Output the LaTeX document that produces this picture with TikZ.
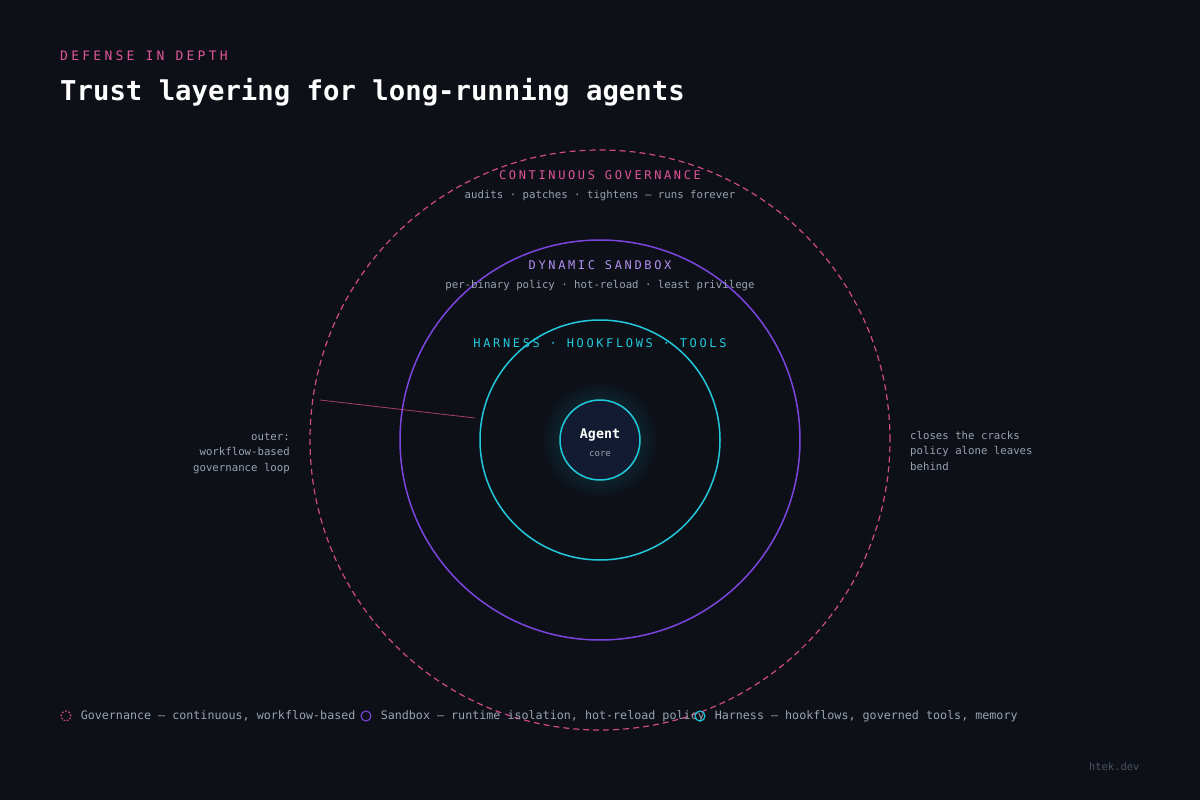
\documentclass[tikz,border=0pt]{standalone}
\usepackage{fontspec}
\setmainfont{DejaVu Sans Mono}
\newfontfamily\capsfont{DejaVu Sans Mono}[LetterSpace=22]
\newfontfamily\kickerfont{DejaVu Sans Mono}[LetterSpace=25]
\usetikzlibrary{positioning}
\definecolor{bgcol}{HTML}{0D1017}
\definecolor{govcol}{HTML}{D04A84}
\definecolor{govtext}{HTML}{E0559A}
\definecolor{sbcol}{HTML}{7B45DE}
\definecolor{sbtext}{HTML}{B090F0}
\definecolor{hncol}{HTML}{22C8DC}
\definecolor{agentfill}{HTML}{121B31}
\definecolor{mutedtext}{HTML}{9AA3B0}
\definecolor{dimtext}{HTML}{4B5563}

\tikzset{
  ring/.style={circle, inner sep=0pt, line width=1.5pt},
  layertitle/.style={anchor=base, font=\capsfont\fontsize{12pt}{12pt}\selectfont},
  layersub/.style={anchor=base, text=mutedtext, font=\fontsize{10.7pt}{10.7pt}\selectfont},
  notetext/.style={text=mutedtext, inner sep=0pt, font=\fontsize{10.7pt}{15.5pt}\selectfont},
  legendring/.style={circle, inner sep=0pt, minimum size=10pt, line width=1.1pt},
  legendtext/.style={anchor=base west, inner sep=0pt, text=mutedtext, font=\fontsize{11.7pt}{11.7pt}\selectfont},
}

\begin{document}
\begin{tikzpicture}[x=1pt, y=-1pt]%
\fill[bgcol] (0,0) rectangle (1200,800);%
\useasboundingbox (0,0) rectangle (1200,800);%
% heading
\node[anchor=base west, inner sep=0pt, text=govtext, font=\kickerfont\fontsize{13pt}{13pt}\selectfont] (kicker) at (60,60) {DEFENSE IN DEPTH};%
\node[anchor=base west, inner sep=0pt, text=white, font=\bfseries\fontsize{27.3pt}{27.3pt}\selectfont] (title) at (60,100) {Trust layering for long-running agents};%
% rings
\node[ring, draw=govcol, line width=1.2pt, dash pattern=on 6pt off 4pt, minimum size=580pt] (gov) at (600,440) {};%
\node[ring, draw=sbcol, minimum size=400pt] (sandbox) at (600,440) {};%
\node[ring, draw=hncol, minimum size=240pt] (harness) at (600,440) {};%
\foreach \r in {42,44,...,58} {\fill[hncol, opacity=0.014] (600,440) circle (\r pt);}%
\node[ring, draw=hncol, fill=agentfill, minimum size=80pt] (agent) at (600,440) {};%
\node[anchor=base, text=white, font=\bfseries\fontsize{13.3pt}{13.3pt}\selectfont] (agentname) at (600,438) {Agent};%
\node[anchor=base, text=mutedtext, font=\fontsize{9pt}{9pt}\selectfont] (agentcore) at (600,456) {core};%
% ring labels
\node[layertitle, text=govtext] (govname) at (600,179) {CONTINUOUS GOVERNANCE};%
\node[layersub] (govsub) at (600,198) {audits · patches · tightens — runs forever};%
\node[layertitle, text=sbtext] (sbname) at (600,269) {DYNAMIC SANDBOX};%
\node[layersub] (sbsub) at (600,288) {per-binary policy · hot-reload · least privilege};%
\node[layertitle, text=hncol] (hnname) at (600,347) {HARNESS · HOOKFLOWS · TOOLS};%
% side notes
\coordinate (leadstart) at (320,400);%
\coordinate (leadend) at (475,418);%
\draw[govcol, opacity=0.8, line width=0.8pt] (leadstart) -- (leadend);%
\node[notetext, anchor=base east, align=right] (outernote) at (290,471) {outer:\\workflow-based\\governance loop};%
\node[notetext, anchor=base west, align=left] (rightnote) at (910,470) {closes the cracks\\policy alone leaves\\behind};%
% legend
\node[legendring, draw=govcol, dash pattern=on 1.8pt off 1.6pt] (lgov) at (66,716) {};%
\node[legendtext, right=9pt of lgov.east, anchor=west] (lgovtext) {Governance — continuous, workflow-based};%
\node[legendring, draw=sbcol] (lsb) at (366,716) {};%
\node[legendtext, right=9pt of lsb.east, anchor=west] (lsbtext) {Sandbox — runtime isolation, hot-reload policy};%
\node[legendring, draw=hncol] (lhn) at (700,716) {};%
\node[legendtext, right=9pt of lhn.east, anchor=west] (lhntext) {Harness — hookflows, governed tools, memory};%
\node[anchor=base west, inner sep=0pt, text=dimtext, font=\fontsize{10.4pt}{10.4pt}\selectfont] (credit) at (1089,770) {htek.dev};%
\end{tikzpicture}
\end{document}
